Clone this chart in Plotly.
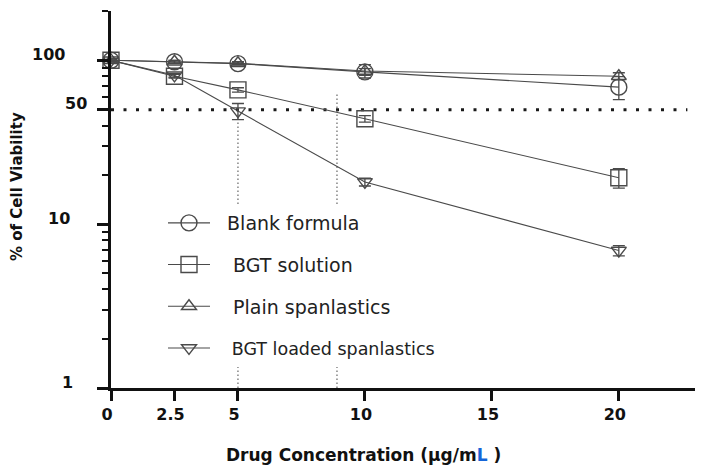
import math
import plotly.graph_objects as go

# ---- data ----
conc = [0, 2.5, 5, 10, 20]
blank = [100, 98, 95.5, 85, 68.6]
blank_err = [2, 2, 2, 4, 11]
bgt_sol = [100, 80, 66, 44, 19.2]
bgt_sol_err = [2, 2, 2, 2, 2.6]
plain = [100, 98, 96, 86, 80]
plain_err = [2, 2, 2, 8, 4]
loaded = [100, 81, 49, 18.1, 6.9]
loaded_err = [2, 2, 5.5, 1, 0.5]

NB = "\u00a0"
names = [NB * 2 + "Blank formula", NB * 3 + "BGT solution", NB * 3 + "Plain spanlastics",
         "<span style='font-size:17.5px'>" + NB * 3 + "BGT loaded spanlastics</span>"]
symbols = ["circle-open", "square-open", "triangle-up-open", "triangle-down-open"]
sizes = [16, 16, 13, 13]

ic50_level = 50
ic50_hline_x = [0, 22.7]
ic50_vx = [5, 8.9]
ic50_vtop = [50, 63]

x_ticks = [0, 2.5, 5, 10, 15, 20]
x_ticktext = ["0", "2.5", "5", "10", "15", "20"]
y_major = [1, 10, 50, 100]
y_major_text = ["1", "10", "50", "100"]
y_minor = [2, 3, 4, 5, 6, 7, 8, 9, 20, 30, 40, 60, 70, 80, 90, 200]

W, H = 705, 474
OFF = 8  # page body margin
# plot area in page pixels
PL, PR, PT, PB = 111, 695, 11, 388
PW, PH = PR - PL, PB - PT
L, T = PL - OFF, PT - OFF
R, B = W - (PR - OFF), H - (PB - OFF)

LINE = "#4a4a4a"
FONT = "DejaVu Sans"

def px(p):
    return (p - PL) / PW

def py(p):
    return (PB - p) / PH

fig = go.Figure()

# reference dotted lines
fig.add_trace(go.Scatter(x=ic50_hline_x, y=[ic50_level, ic50_level], mode="lines",
                         line=dict(color="#1a1a1a", width=3, dash="3px,9.5px"),
                         showlegend=False, hoverinfo="skip"))
for vx, vt in zip(ic50_vx, ic50_vtop):
    fig.add_trace(go.Scatter(x=[vx, vx], y=[1, vt], mode="lines",
                             line=dict(color="#666666", width=1.2, dash="1.5px,2.5px"),
                             showlegend=False, hoverinfo="skip"))

series = [blank, bgt_sol, plain, loaded]
errs = [blank_err, bgt_sol_err, plain_err, loaded_err]
for i, (vals, err) in enumerate(zip(series, errs)):
    fig.add_trace(go.Scatter(
        x=conc, y=vals, name=names[i], mode="lines+markers",
        line=dict(color=LINE, width=1.1),
        marker=dict(symbol=symbols[i], size=sizes[i], color=LINE,
                    line=dict(width=1.4, color=LINE)),
        error_y=dict(type="data", array=err, color=LINE, thickness=1.3, width=6),
        cliponaxis=False, legendgroup=str(i),
    ))

fig.update_layout(
    width=W, height=H,
    margin=dict(l=L, r=R, t=T, b=B, autoexpand=False),
    paper_bgcolor="white", plot_bgcolor="white",
    font=dict(family=FONT, color="#111111"),
    legend=dict(x=px(163), y=py(204), xanchor="left", yanchor="top",
                bgcolor="white", font=dict(size=19, family=FONT, color="#222222"),
                traceorder="grouped", tracegroupgap=14, itemwidth=42),
    xaxis=dict(range=[0, 23.0], tickvals=x_ticks, ticktext=x_ticktext,
               showgrid=False, zeroline=False, showline=True, linecolor="#111111",
               linewidth=3, ticks="outside", ticklen=10, tickwidth=2.5,
               tickcolor="#111111", ticklabelshift=-4, ticklabelstandoff=0,
               tickfont=dict(size=16, family=FONT, weight="bold", color="#111111")),
    yaxis=dict(type="log", range=[0, math.log10(200)], tickvals=y_major,
               showticklabels=False, showgrid=False, zeroline=False, showline=True,
               linecolor="#111111", linewidth=3, ticks="outside", ticklen=11,
               tickwidth=2.5, tickcolor="#111111",
               minor=dict(tickvals=y_minor, ticks="outside", ticklen=6, tickwidth=2,
                          tickcolor="#111111")),
)

# y tick labels placed at the axis values
y_label_right = {1: 75, 10: 72, 50: 89, 100: 67}
for v, t in zip(y_major, y_major_text):
    fig.add_annotation(x=px(y_label_right[v]), xref="paper", y=math.log10(v), yref="y",
                       text="<b>%s</b>" % t, showarrow=False, xanchor="right",
                       yanchor="middle", yshift=6,
                       font=dict(size=16, family=FONT, color="#111111"))

# axis titles
fig.add_annotation(x=px(363), xref="paper", y=py(455), yref="paper",
                   text="<b>Drug Concentration (μg/m<span style='color:#1565d8'>L</span> )</b>",
                   showarrow=False, xanchor="center", yanchor="middle",
                   font=dict(size=17, family=FONT, color="#111111"))
fig.add_annotation(x=px(17), xref="paper", y=py(187), yref="paper",
                   text="<b>% of Cell Viability</b>", textangle=-90,
                   showarrow=False, xanchor="center", yanchor="middle",
                   font=dict(size=15, family=FONT, color="#111111"))

fig.write_html("out.html")
